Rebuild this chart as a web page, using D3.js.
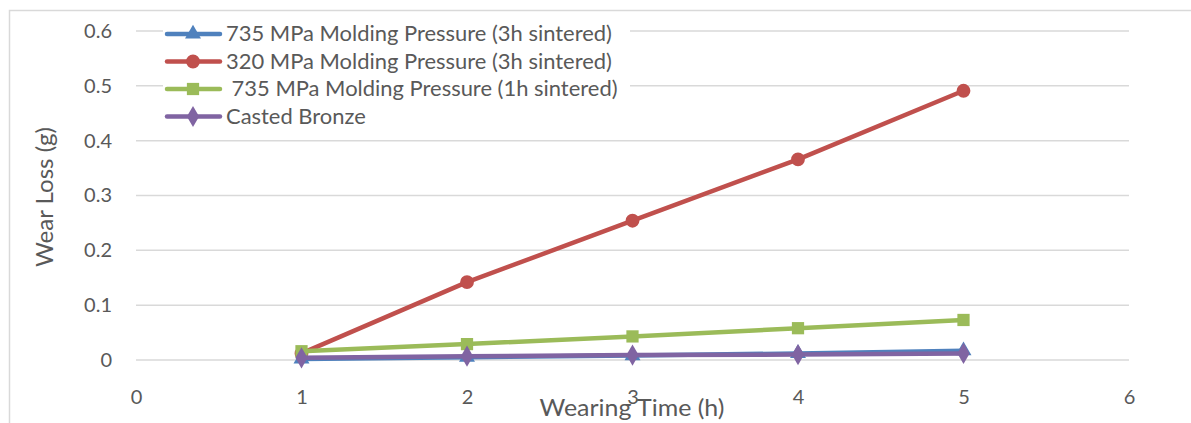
<!DOCTYPE html>
<html>
<head>
<meta charset="utf-8">
<script src="https://cdn.jsdelivr.net/npm/d3@7"></script>
<style>
  body { margin: 0; background: #fff; }
  text { font-family: Lato, "Liberation Sans", sans-serif; fill: #595959; }
</style>
</head>
<body>
<div id="chart"></div>
<script>
var svgWidth = 1191;
var svgHeight = 423;

// data
var hours = [1, 2, 3, 4, 5];
var xTicks = [0, 1, 2, 3, 4, 5, 6];
var yTicks = [0, 0.1, 0.2, 0.3, 0.4, 0.5, 0.6];
var seriesNames = [
  "735 MPa Molding Pressure (3h sintered)",
  "320 MPa Molding Pressure (3h sintered)",
  " 735 MPa Molding Pressure (1h sintered)",
  "Casted Bronze"
];
var blueVals = [0.002, 0.005, 0.008, 0.012, 0.017];
var redVals = [0.012, 0.142, 0.254, 0.366, 0.491];
var greenVals = [0.016, 0.029, 0.043, 0.058, 0.073];
var purpleVals = [0.004, 0.007, 0.009, 0.010, 0.012];
var colors = ["#4f81bd", "#c0504d", "#9bbb59", "#8064a2"];
var symbols = [d3.symbolTriangle, d3.symbolCircle, d3.symbolSquare, d3.symbolDiamond];
var symbolSizes = [110, 150, 150, 130];

var margin = { top: 31, right: 62, bottom: 63, left: 136 };
var width = svgWidth - margin.left - margin.right;
var height = svgHeight - margin.top - margin.bottom;

var svg = d3.select("#chart")
  .append("svg")
  .attr("width", svgWidth)
  .attr("height", svgHeight);

// outer chart border
svg.append("rect")
  .attr("x", 9.5).attr("y", 10.5)
  .attr("width", 1200).attr("height", 450)
  .attr("fill", "none")
  .attr("stroke", "#d9d9d9")
  .attr("stroke-width", 1.5);

var chartGroup = svg.append("g")
  .attr("transform", `translate(${margin.left}, ${margin.top})`);

var x = d3.scaleLinear().domain([0, 6]).range([0, width]);
var y = d3.scaleLinear().domain([0, 0.6]).range([height, 0]);

// gridlines
chartGroup.append("g")
  .selectAll("line")
  .data(yTicks)
  .enter()
  .append("line")
  .attr("x1", 0).attr("x2", width)
  .attr("y1", d => y(d)).attr("y2", d => y(d))
  .attr("stroke", "#d9d9d9")
  .attr("stroke-width", 1.5);

// axes (labels only)
var leftAxis = d3.axisLeft(y).tickValues(yTicks).tickSize(0).tickPadding(24)
  .tickFormat(d => d === 0 ? "0" : d3.format(".1f")(d));
var bottomAxis = d3.axisBottom(x).tickValues(xTicks).tickSize(0).tickPadding(30)
  .tickFormat(d3.format("d"));

var gy = chartGroup.append("g").call(leftAxis);
var gx = chartGroup.append("g").attr("transform", `translate(0, ${height})`).call(bottomAxis);
[gy, gx].forEach(function(g) {
  g.select(".domain").remove();
  g.selectAll("text")
    .attr("font-family", "Lato, 'Liberation Sans', sans-serif")
    .attr("font-size", "20px")
    .attr("fill", "#595959");
});

// series
var allSeries = [blueVals, redVals, greenVals, purpleVals];
var line = d3.line()
  .x((d, i) => x(hours[i]))
  .y(d => y(d));

allSeries.forEach(function(vals, s) {
  var g = chartGroup.append("g");
  g.append("path")
    .datum(vals)
    .attr("d", line)
    .attr("fill", "none")
    .attr("stroke", colors[s])
    .attr("stroke-width", 4.5)
    .attr("stroke-linejoin", "round");
  g.selectAll("path.pt")
    .data(vals)
    .enter()
    .append("path")
    .attr("class", "pt")
    .attr("transform", (d, i) => `translate(${x(hours[i])}, ${y(d)})`)
    .attr("d", d3.symbol().type(symbols[s]).size(symbolSizes[s]))
    .attr("fill", colors[s]);
});

// axis titles
svg.append("text")
  .attr("transform", "translate(53, 197) rotate(-90)")
  .attr("text-anchor", "middle")
  .attr("font-size", "23px")
  .attr("textLength", 140)
  .attr("lengthAdjust", "spacingAndGlyphs")
  .text("Wear Loss (g)");

svg.append("text")
  .attr("x", 632)
  .attr("y", 416)
  .attr("text-anchor", "middle")
  .attr("font-size", "23px")
  .attr("textLength", 185)
  .attr("lengthAdjust", "spacingAndGlyphs")
  .text("Wearing Time (h)");

// legend
var legend = svg.append("g").attr("transform", "translate(163, 20)");
legend.append("rect")
  .attr("x", 0).attr("y", 0)
  .attr("width", 467).attr("height", 110)
  .attr("fill", "#fff");

seriesNames.forEach(function(name, s) {
  var row = legend.append("g").attr("transform", `translate(0, ${14 + s * 27.5})`);
  row.append("line")
    .attr("x1", 4).attr("x2", 57)
    .attr("stroke", colors[s])
    .attr("stroke-width", 4.5)
    .attr("stroke-linecap", "round");
  row.append("path")
    .attr("transform", "translate(30, 0)")
    .attr("d", d3.symbol().type(symbols[s]).size(symbolSizes[s]))
    .attr("fill", colors[s]);
  var t = row.append("text")
    .attr("x", 63)
    .attr("y", 7)
    .attr("font-size", "20.5px")
    .style("white-space", "pre")
    .text(name);
  // stretch a little, the original face is wider
  var w = t.node().getComputedTextLength();
  t.attr("textLength", w * 1.07).attr("lengthAdjust", "spacingAndGlyphs");
});
</script>
</body>
</html>
